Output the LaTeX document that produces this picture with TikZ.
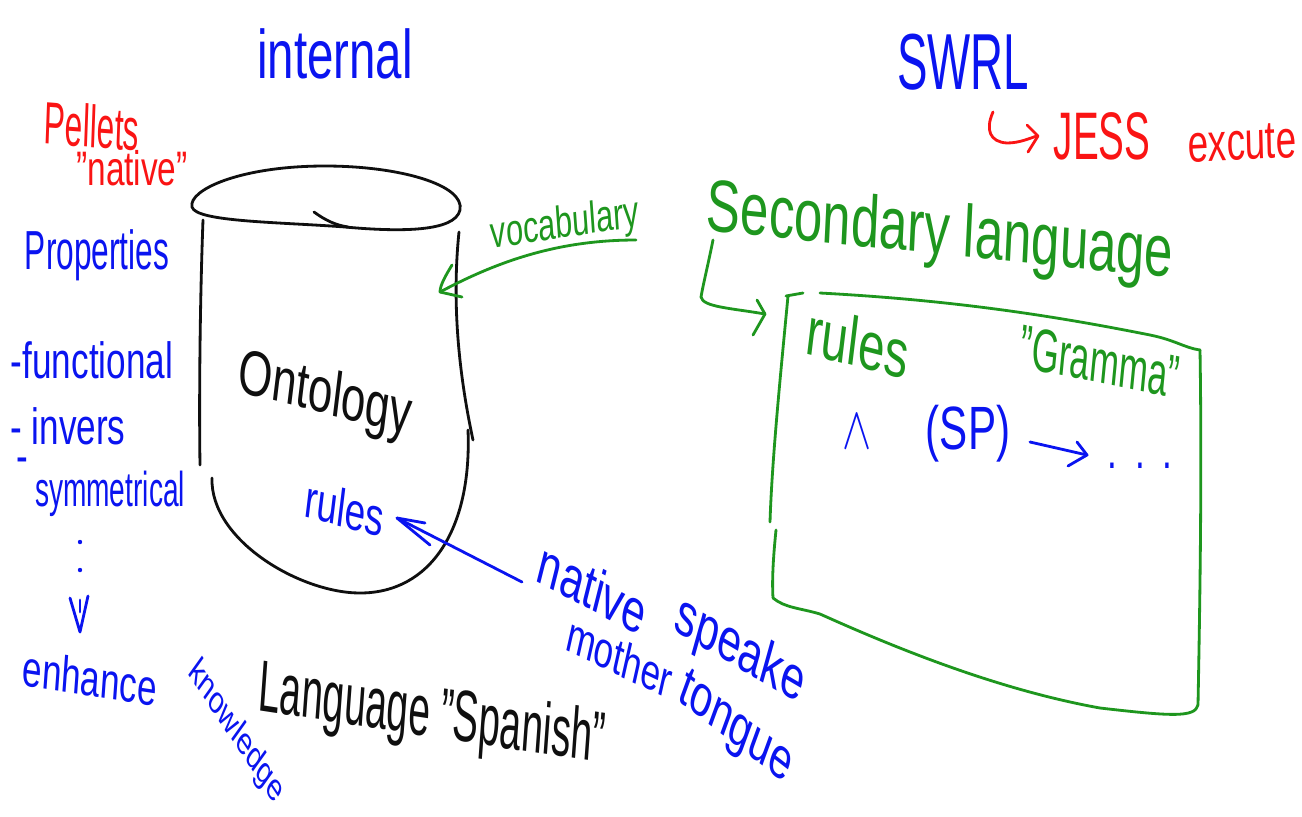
\documentclass[tikz,border=0pt]{standalone}
\usepackage{fontspec}
\setmainfont{Liberation Sans}
\newcommand\handsize[1]{\fontsize{#1}{#1}\selectfont}
\definecolor{penblue}{RGB}{10,20,240}
\definecolor{penred}{RGB}{250,20,20}
\definecolor{pengreen}{RGB}{30,150,30}
\definecolor{penblack}{RGB}{15,15,15}
\tikzset{
  ink/.style={line width=1.6pt, line cap=round, line join=round},
  hand/.style={inner sep=0pt, transform shape, yscale=1.45},
}
\begin{document}
\begin{tikzpicture}[x=0.02cm, y=-0.02cm]
\path[use as bounding box, fill=white] (0,0) rectangle (1302,816);

% ---- titles
\node[hand, penblue, font=\handsize{27}] (internal) at (335,54) {internal};
\node[hand, penblue, font=\handsize{26}, yscale=1.2] (swrl) at (963,62) {SWRL};

% ---- red notes
\node[hand, penred, font=\handsize{18}, rotate=-3, yscale=1.3] (pellets) at (92,126) {Pellets};
\node[hand, penred, font=\handsize{19}] (nativeq) at (132,168) {"native"};
\node[hand, penred, font=\handsize{22}, yscale=1.2] (jess) at (1102,136) {JESS};
\node[hand, penred, font=\handsize{21}, rotate=2] (exec) at (1242,143) {excute};
\coordinate (hookstart) at (993,112);
\draw[ink, penred] (hookstart) .. controls (985,130) and (990,142) .. (1007,143)
  .. controls (1020,143) and (1030,138) .. (1037,136);
\draw[ink, penred] (1027,125) -- (1038,136) -- (1028,152);

% ---- property list
\node[hand, penblue, font=\handsize{18}, yscale=1.2] (props) at (97,255) {Properties};
\node[hand, penblue, font=\handsize{20}] (func) at (92,360) {-functional};
\node[hand, penblue, font=\handsize{20}] (inv) at (68,426) {- invers};
\node[hand, penblue, font=\handsize{20}] (dash) at (22,466) {-};
\node[hand, penblue, font=\handsize{16}, yscale=1.2] (sym) at (110,494) {symmetrical};
\fill[penblue] (80,542) circle (2.2) (80,570) circle (2.2);
\draw[ink, penblue] (70,598) -- (80,632) -- (88,596);
\draw[ink, penblue] (80,600) -- (80,612);
\node[hand, penblue, font=\handsize{20}, rotate=-6] (enh) at (90,678) {enhance};
\node[hand, penblue, font=\handsize{15}, rotate=-46] (know) at (236,732) {knowledge};

% ---- ontology cylinder
\draw[ink, penblack] (325,166) .. controls (240,166) and (188,190) .. (192,207)
  .. controls (196,222) and (280,222) .. (345,227)
  .. controls (400,232) and (455,232) .. (460,210)
  .. controls (465,185) and (400,166) .. (325,166);
\draw[ink, penblack] (314,212) .. controls (325,220) and (335,225) .. (348,227);
\draw[ink, penblack] (203,220) .. controls (200,300) and (199,400) .. (200,465);
\draw[ink, penblack] (459,232) .. controls (452,300) and (458,370) .. (473,440);
\draw[ink, penblack] (212,478) .. controls (210,540) and (300,593) .. (360,593)
  .. controls (430,593) and (472,530) .. (468,430);
\node[hand, penblack, font=\handsize{25}, rotate=-10] (onto) at (325,397) {Ontology};
\node[hand, penblue, font=\handsize{21}, rotate=-10] (orules) at (345,508) {rules};
\node[hand, penblack, font=\handsize{22}, rotate=-6, yscale=1.3] (lang) at (432,718) {Language "Spanish"};

% ---- native speaker
\node[hand, penblue, font=\handsize{24}, rotate=-20] (native) at (593,588) {native};
\node[hand, penblue, font=\handsize{24}, rotate=-22] (speak) at (740,652) {speake};
\node[hand, penblue, font=\handsize{20}, rotate=-18] (mother) at (620,657) {mother};
\node[hand, penblue, font=\handsize{23}, rotate=-28] (tongue) at (735,730) {tongue};
\coordinate (nstart) at (522,582);
\coordinate (ntip) at (397,518);
\draw[ink, penblue] (nstart) -- (ntip);
\draw[ink, penblue] (425,523) -- (ntip) -- (430,545);

% ---- secondary language
\node[hand, pengreen, font=\handsize{17.5}, rotate=6] (vocab) at (565,226) {vocabulary};
\coordinate (vstart) at (636,240);
\coordinate (vtip) at (440,292);
\draw[ink, pengreen] (vstart) .. controls (560,240) and (500,260) .. (vtip);
\draw[ink, pengreen] (452,265) .. controls (446,275) and (440,285) .. (vtip) -- (462,297);

\node[hand, pengreen, font=\handsize{29}, rotate=-4] (second) at (940,235) {Secondary language};
\coordinate (lstart) at (713,240);
\coordinate (ltip) at (765,314);
\draw[ink, pengreen] (lstart) .. controls (708,265) and (703,285) .. (701,297)
  .. controls (703,307) and (730,308) .. (ltip);
\draw[ink, pengreen] (757,300) -- (ltip) -- (753,335);

% grammar box
\draw[ink, pengreen] (786,296) -- (803,293);
\draw[ink, pengreen] (820,293) .. controls (950,300) and (1050,315) .. (1150,335)
  .. controls (1175,340) and (1185,348) .. (1200,350);
\draw[ink, pengreen] (1200,350) .. controls (1202,470) and (1200,600) .. (1198,705);
\draw[ink, pengreen] (1198,705) .. controls (1195,718) and (1170,716) .. (1100,708)
  .. controls (1000,690) and (900,650) .. (820,614)
  .. controls (800,608) and (785,608) .. (773,598);
\draw[ink, pengreen] (788,296) .. controls (780,380) and (772,460) .. (770,522);
\draw[ink, pengreen] (776,530) .. controls (773,560) and (772,580) .. (773,598);
\node[hand, pengreen, font=\handsize{27}, rotate=-10] (brules) at (858,342) {rules};
\node[hand, pengreen, font=\handsize{20}, rotate=-8, yscale=1.2] (gram) at (1100,362) {"Gramma"};

% rule sketch
\node[hand, penblue, font=\handsize{36}, yscale=0.95] (wedge) at (857,432) {$\wedge$};
\node[hand, penblue, font=\handsize{24}] (sp) at (968,434) {(SP)};
\node[hand, penblue, font=\handsize{20}] (dots) at (1140,466) {.\,\,\,.\,\,\,.};
\coordinate (astart) at (1030,442);
\coordinate (atip) at (1087,455);
\draw[ink, penblue] (astart) -- (atip);
\draw[ink, penblue] (1077,442) -- (atip) -- (1068,466);
\end{tikzpicture}
\end{document}
